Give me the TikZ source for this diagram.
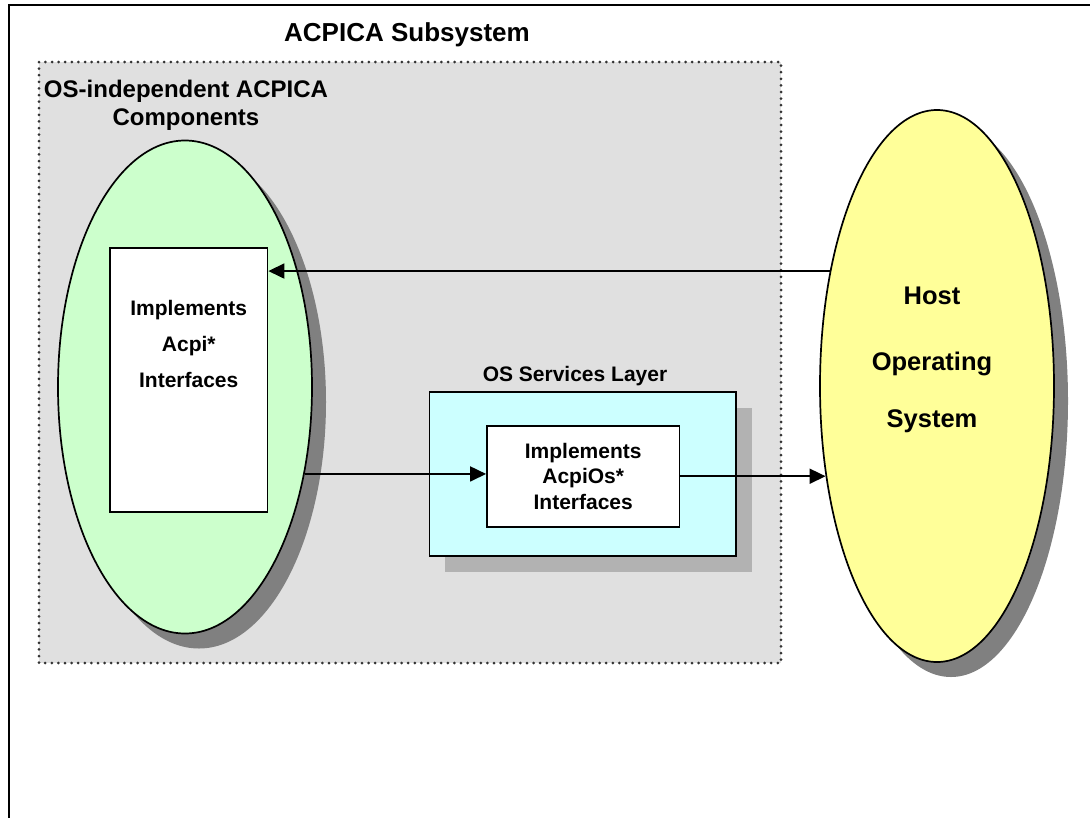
\documentclass[tikz,border=0pt]{standalone}
\usepackage{fontspec}
\setmainfont{Liberation Sans}
\usetikzlibrary{shapes.geometric,shadows,arrows.meta}
\definecolor{subgray}{HTML}{E0E0E0}
\definecolor{dotgray}{HTML}{333333}
\definecolor{compgreen}{HTML}{CCFFCC}
\definecolor{hostyellow}{HTML}{FFFF99}
\definecolor{oscyan}{HTML}{CCFFFF}
\definecolor{darkshadow}{HTML}{808080}
\definecolor{lightshadow}{HTML}{B2B2B2}
\begin{document}
\begin{tikzpicture}[x=1pt,y=-1pt]\tikzstyle{every node}=[font=\bfseries]
\tikzstyle{blob}=[ellipse,draw,line width=1.7pt,inner sep=0pt]
\tikzstyle{box}=[rectangle,draw,line width=1.7pt,inner sep=0pt]
\tikzstyle{arr}=[-{Triangle[length=16pt,width=15pt]},line width=1.7pt]
\useasboundingbox (0,0) rectangle (1090,817);
\fill[white] (0,0) rectangle (1090,817);
\draw[line width=2.8pt] (9,5) rectangle (1120,850);
\draw[fill=subgray,draw=dotgray,line width=3pt,line cap=round,
      dash pattern=on 0pt off 6.6pt] (39,62) rectangle (781,663);
\node[anchor=base,font=\bfseries\fontsize{26}{30}\selectfont] (title) at (407,41) {ACPICA Subsystem};
\node[align=center,font=\bfseries\fontsize{24}{28}\selectfont] (indep) at (186,105) {OS-independent ACPICA\\Components};
\node[blob,fill=compgreen,minimum width=254pt,minimum height=493pt,
      drop shadow={shadow xshift=14pt,shadow yshift=-15pt,fill=darkshadow,opacity=1}] (comp) at (185,387) {};
\node[blob,fill=hostyellow,minimum width=234pt,minimum height=552pt,
      drop shadow={shadow xshift=14pt,shadow yshift=-15pt,fill=darkshadow,opacity=1}] (host) at (937,386) {};
\node[box,fill=white,minimum width=157.5pt,minimum height=263.5pt] (acpi) at (188.75,380) {};
\node[align=center,font=\bfseries\fontsize{21}{36.2}\selectfont] (acpitxt) at (188.75,344.2) {Implements\\Acpi*\\Interfaces};
\node[align=center,font=\bfseries\fontsize{25.5}{57.5}\selectfont] (hosttxt) at (932,360) {Host\\[8pt]Operating\\System};
\node[anchor=base,font=\bfseries\fontsize{21}{25}\selectfont] (layer) at (575,381) {OS Services Layer};
\node[box,fill=oscyan,minimum width=306.5pt,minimum height=164.3pt,
      drop shadow={shadow xshift=16pt,shadow yshift=-16.5pt,fill=lightshadow,opacity=1}] (osl) at (582.7,473.8) {};
\node[box,fill=white,align=center,minimum width=192.5pt,minimum height=100.7pt,
      font=\bfseries\fontsize{21}{25.3}\selectfont] (osin) at (583.2,476.3) {Implements\\AcpiOs*\\Interfaces};
\draw[arr] (host.133.5) -- (host.133.5 -| acpi.east);
\draw[arr] (comp.-36) -- (comp.-36 -| osin.west);
\draw[arr] (host.219.4 -| osin.east) -- (host.219.4);
\end{tikzpicture}
\end{document}
